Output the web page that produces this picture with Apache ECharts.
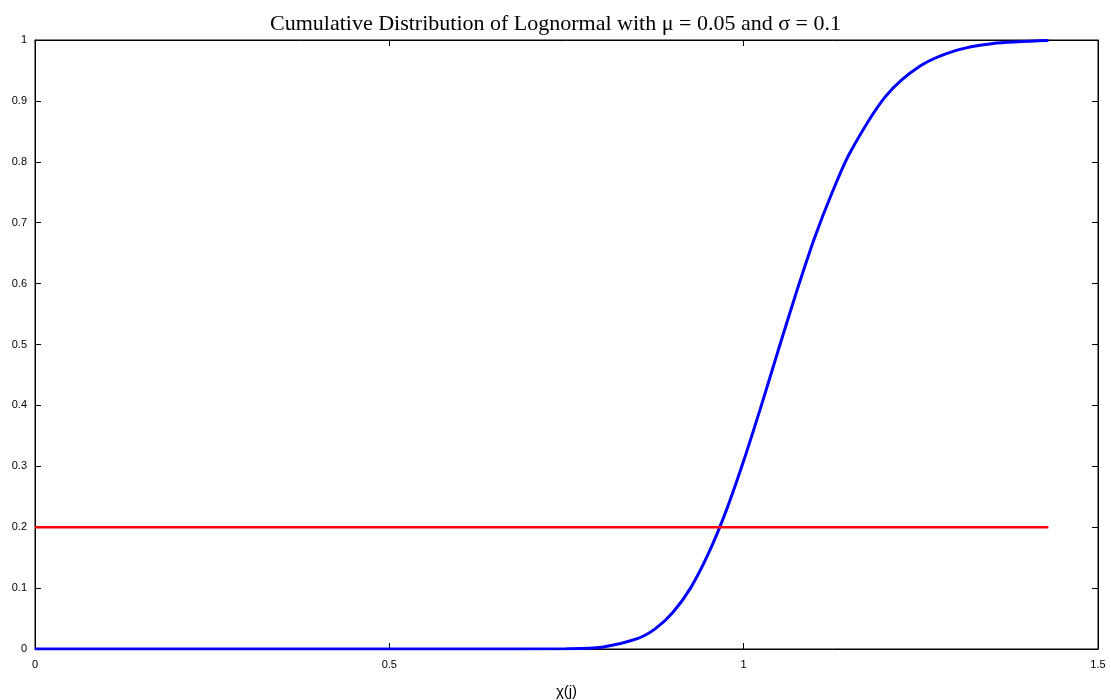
<!DOCTYPE html>
<html>
<head>
  <script src="https://cdn.jsdelivr.net/npm/echarts@6/dist/echarts.min.js"></script>
</head>
<body style="margin:0">
  <div id="main" style="width:1111px;height:700px;"></div>
  <script>
    // values
    var cdfX = [0, 0.3, 0.6, 0.75, 0.8, 0.85, 0.875, 0.9, 0.925, 0.95, 0.975, 1.0, 1.025, 1.05, 1.075, 1.1, 1.125, 1.15, 1.2, 1.25, 1.3, 1.35, 1.43];
    var cdfY = [0, 0, 0, 0.0005, 0.003, 0.017, 0.033, 0.06, 0.10, 0.156, 0.226, 0.309, 0.40, 0.495, 0.588, 0.675, 0.75, 0.815, 0.907, 0.958, 0.983, 0.994, 0.999];
    var levelX = [0, 1.43];
    var levelY = [0.2, 0.2];

    var chart = echarts.init(document.getElementById('main'));
    var lineAx = { show: true, onZero: false, lineStyle: { color: '#000', width: 1 } };
    var tick = { show: true, inside: true, length: 6, lineStyle: { color: '#000' } };
    var lbl = { color: '#000', fontSize: 11, fontFamily: 'Liberation Sans' };
    chart.setOption({
      animation: false,
      title: {
        text: 'Cumulative Distribution of Lognormal with \u03bc = 0.05 and \u03c3 = 0.1',
        left: 'center', top: 2,
        textStyle: { fontFamily: 'Liberation Serif', fontWeight: 'normal', fontSize: 22, color: '#000' }
      },
      grid: { left: 35, right: 13, top: 40, bottom: 51, outerBoundsMode: 'none', containLabel: false,
              show: true, borderColor: '#000', borderWidth: 1 },
      xAxis: [{
        type: 'value', min: 0, max: 1.5, interval: 0.5,
        name: '\u03c7(j)', nameLocation: 'middle', nameGap: 18,
        nameTextStyle: { fontSize: 15, fontFamily: 'Liberation Sans', color: '#000' },
        axisLine: lineAx, axisTick: tick, axisLabel: Object.assign({ margin: 6 }, lbl), splitLine: { show: false }
      }, {
        type: 'value', position: 'top', min: 0, max: 1.5, interval: 0.5, show: true,
        axisLine: lineAx, axisTick: tick, axisLabel: { show: false }, splitLine: { show: false }
      }],
      yAxis: [{
        type: 'value', min: 0, max: 1, interval: 0.1,
        axisLine: lineAx, axisTick: tick, splitLine: { show: false },
        axisLabel: Object.assign({ margin: 8, formatter: function (v) { return +v.toFixed(1) + ''; } }, lbl)
      }, {
        type: 'value', position: 'right', min: 0, max: 1, interval: 0.1, show: true,
        axisLine: lineAx, axisTick: tick, axisLabel: { show: false }, splitLine: { show: false }
      }],
      series: [{
        type: 'line', smooth: 0.3, symbol: 'none',
        lineStyle: { color: '#0000ff', width: 3 },
        data: cdfX.map(function (x, i) { return [x, cdfY[i]]; })
      }, {
        type: 'line', symbol: 'none',
        lineStyle: { color: '#ff0000', width: 2.5 },
        data: levelX.map(function (x, i) { return [x, levelY[i]]; })
      }, {
        type: 'line', xAxisIndex: 1, yAxisIndex: 1, symbol: 'none', silent: true,
        lineStyle: { opacity: 0 }, data: []
      }]
    });
  </script>
</body>
</html>
